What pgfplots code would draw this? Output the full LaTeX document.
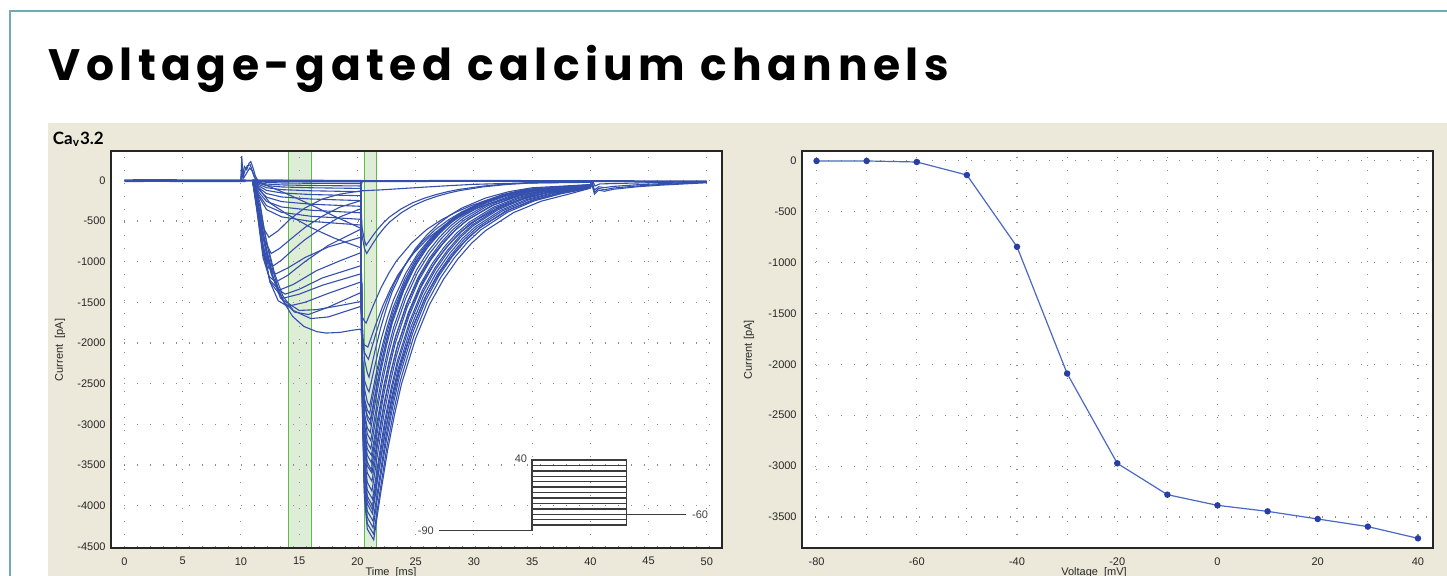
\documentclass[border=0pt]{standalone}
\usepackage{pgfplots}
\pgfplotsset{compat=1.18}
\usepackage{fontspec}
\setmainfont{Liberation Sans}
\newfontfamily\titlefont{Poppins}[LetterSpace=12.5]
\newfontfamily\panelfont{Lato}
\definecolor{tealc}{RGB}{114,170,178}
\definecolor{panel}{RGB}{236,233,218}
\definecolor{trace}{RGB}{52,80,172}
\definecolor{bandfill}{RGB}{222,237,214}
\definecolor{bandline}{RGB}{95,185,75}
\definecolor{ivline}{RGB}{75,105,195}
\definecolor{ivmark}{RGB}{40,62,160}
\definecolor{proto}{RGB}{60,60,60}
\definecolor{gridc}{RGB}{140,140,140}
\pgfplotsset{
  myax/.style={
    anchor=south west, scale only axis, height=198.5pt,
    axis line style={black!85, line width=0.6pt},
    major tick length=0pt, minor tick length=0pt,
    ticklabel style={font=\fontsize{5.5}{6}\selectfont, text=black!85},
    yticklabel style={anchor=east, inner sep=0pt, xshift=-2.5pt},
    xticklabel style={anchor=north, inner sep=0pt, yshift=-4.5pt},
    grid style={gridc, line width=0.55pt, dash pattern=on 0.7pt off 5.8pt},
    minor grid style={gridc, line width=0.55pt, dash pattern=on 0.7pt off 5.8pt},
  },
  tr/.style={trace, line width=0.55pt, mark=none},
}
\begin{document}
\begin{tikzpicture}
\useasboundingbox (0,0) rectangle (723.5pt,287.5pt);
\clip (0,0) rectangle (723.5pt,287.5pt);
\fill[white] (0,0) rectangle (723.5pt,287.5pt);
\draw[tealc, line width=0.9pt] (5pt,-1pt) -- (5pt,282.15pt) -- (724pt,282.15pt);
\fill[panel] (24pt,-1pt) rectangle (724pt,226pt);
\fill[white] (55.5pt,13.5pt) rectangle (361pt,212pt);
\fill[white] (401pt,13.5pt) rectangle (716.5pt,212pt);
\node[anchor=base west, inner sep=0pt] at (24pt,247.5pt) {\titlefont\bfseries\fontsize{22}{24}\selectfont Voltage-gated calcium channels};
\node[anchor=base west, inner sep=0pt] at (26.25pt,215.5pt) {\panelfont\bfseries\fontsize{8.5}{10}\selectfont Ca\textsubscript{v}3.2};

% band layer
\begin{axis}[at={(55.5pt,13.5pt)}, anchor=south west, scale only axis,
  width=305.5pt, height=198.5pt, xmin=-1.15, xmax=51.3, ymin=-4520, ymax=360, hide axis]
\fill[bandfill] (axis cs:14.1,-4520) rectangle (axis cs:16.1,360);
\fill[bandfill] (axis cs:20.6,-4520) rectangle (axis cs:21.6,360);
\draw[bandline, line width=0.5pt] (axis cs:14.1,-4520) -- (axis cs:14.1,360);
\draw[bandline, line width=0.5pt] (axis cs:16.1,-4520) -- (axis cs:16.1,360);
\draw[bandline, line width=0.5pt] (axis cs:20.6,-4520) -- (axis cs:20.6,360);
\draw[bandline, line width=0.5pt] (axis cs:21.6,-4520) -- (axis cs:21.6,360);
\end{axis}

% left plot
\begin{axis}[myax, at={(55.5pt,13.5pt)}, width=305.5pt,
  xmin=-1.15, xmax=51.3, ymin=-4520, ymax=360,
  xtick={0,5,...,50}, xticklabels={0,5,10,15,20,25,30,35,40,45,50},
  ytick={-4500,-4000,...,0},
  yticklabels={-4500,-4000,-3500,-3000,-2500,-2000,-1500,-1000,-500,0},
  grid=major, unbounded coords=jump]
% protocol inset
\addplot[proto, line width=0.7pt] coordinates {(27,-4305)(35,-4305)(35,-3440)(43.08,-3440)(43.08,-4238)(35,-4238)(35,nan)
(35,-4171.5)(43.08,-4171.5)(43.08,nan)(35,-4105)(43.08,-4105)(48.2,-4105)(48.2,nan)
(35,-4038.5)(43.08,-4038.5)(43.08,nan)(35,-3972)(43.08,-3972)(43.08,nan)
(35,-3905.5)(43.08,-3905.5)(43.08,nan)(35,-3839)(43.08,-3839)(43.08,nan)
(35,-3772.5)(43.08,-3772.5)(43.08,nan)(35,-3706)(43.08,-3706)(43.08,nan)
(35,-3639.5)(43.08,-3639.5)(43.08,nan)(35,-3573)(43.08,-3573)(43.08,nan)
(35,-3506.5)(43.08,-3506.5)(43.08,nan)};
\node[anchor=east, inner sep=0pt, text=black!75, font=\fontsize{5.5}{6}\selectfont] at (axis cs:34.6,-3420) {40};
\node[anchor=east, inner sep=0pt, text=black!75, font=\fontsize{5.5}{6}\selectfont] at (axis cs:26.6,-4305) {-90};
\node[anchor=west, inner sep=0pt, text=black!75, font=\fontsize{5.5}{6}\selectfont] at (axis cs:48.7,-4105) {-60};
% baseline and artifact
\addplot[tr, line width=1.4pt] coordinates {(0,-5)(3,-3)(6,-6)(10,-5)(10.4,-5)};
\addplot[tr, line width=1.0pt] coordinates {(10,-5)(11.4,-5)(20.3,-8)(20.32,-40)(20.4,-10)(30,-8)(40,-10)(50,-15)};
\addplot[tr] coordinates {(10.0,0)(10.08,300)(10.15,60)(10.3,170)(10.5,130)(10.7,210)(10.85,230)(11.05,150)(11.25,50)(11.45,0)};
\addplot[tr] coordinates {(10.0,0)(10.1,220)(10.2,40)(10.35,120)(10.55,180)(10.8,190)(11.0,110)(11.2,30)(11.4,-10)};
\addplot[tr] coordinates {(10,0)(10.12,150)(10.25,30)(10.5,90)(10.75,150)(10.95,120)(11.15,40)(11.35,0)};
% traces
\addplot[tr] coordinates {(11,0)(20.3,-5)(20.4,-2652)(20.6,-3890)(20.85,-4287)(21.4,-4420)(22.0,-3845)(22.6,-3315)(23.2,-2873)(23.8,-2497)(25.0,-1945)(26.2,-1525)(27.4,-1216)(28.6,-972)(29.8,-774)(31.0,-619)(33.4,-398)(35.8,-256)(38.2,-168)(40,-97)};
\addplot[tr] coordinates {(11,0)(20.3,-5)(20.4,-2610)(20.6,-3828)(20.85,-4220)(21.4,-4350)(21.98,-3785)(22.55,-3263)(23.13,-2828)(23.7,-2458)(24.85,-1914)(26.0,-1501)(27.15,-1196)(28.3,-957)(29.45,-761)(30.6,-609)(32.9,-392)(35.2,-252)(37.5,-165)(40,-96)};
\addplot[tr] coordinates {(11,0)(11.5,-7)(12.2,-13)(13.5,-16)(16,-18)(20.3,-20)(20.4,-2570)(20.6,-3760)(20.85,-4143)(21.35,-4270)(21.92,-3715)(22.48,-3203)(23.05,-2776)(23.61,-2413)(24.74,-1879)(25.87,-1473)(27.0,-1174)(28.13,-939)(29.26,-747)(30.39,-598)(32.65,-384)(34.91,-248)(37.17,-162)(40,-94)};
\addplot[tr] coordinates {(11,0)(11.5,-14)(12.2,-26)(13.5,-33)(16,-37)(20.3,-40)(20.4,-2530)(20.6,-3692)(20.85,-4066)(21.35,-4190)(21.91,-3645)(22.46,-3143)(23.02,-2724)(23.57,-2367)(24.68,-1844)(25.79,-1446)(26.9,-1152)(28.01,-922)(29.12,-733)(30.23,-587)(32.45,-377)(34.67,-243)(36.89,-159)(40,-92)};
\addplot[tr] coordinates {(11,0)(20.3,-10)(20.4,-2434)(20.6,-3565)(20.85,-3929)(21.3,-4050)(21.89,-3524)(22.47,-3038)(23.06,-2633)(23.64,-2288)(24.81,-1782)(25.98,-1397)(27.15,-1114)(28.32,-891)(29.49,-709)(30.66,-567)(33.0,-365)(35.34,-235)(37.68,-154)(40,-95)};
\addplot[tr] coordinates {(11,0)(11.5,-25)(12.2,-46)(13.5,-57)(16,-64)(20.3,-70)(20.4,-2488)(20.6,-3616)(20.85,-3979)(21.3,-4100)(21.85,-3567)(22.4,-3075)(22.95,-2665)(23.5,-2317)(24.6,-1804)(25.7,-1415)(26.8,-1128)(27.9,-902)(29.0,-718)(30.1,-574)(32.3,-369)(34.5,-238)(36.7,-156)(40,-90)};
\addplot[tr] coordinates {(11,0)(11.5,-35)(12.2,-65)(13.5,-82)(16,-92)(20.3,-100)(20.4,-2440)(20.6,-3532)(20.85,-3883)(21.3,-4000)(21.84,-3480)(22.38,-3000)(22.92,-2600)(23.46,-2260)(24.54,-1760)(25.62,-1380)(26.7,-1100)(27.78,-880)(28.86,-700)(29.94,-560)(32.1,-360)(34.26,-232)(36.42,-152)(40,-88)};
\addplot[tr] coordinates {(11,0)(11.5,-49)(12.2,-91)(13.5,-115)(16,-129)(20.3,-140)(20.4,-2408)(20.6,-3466)(20.85,-3807)(21.3,-3920)(21.84,-3410)(22.37,-2940)(22.91,-2548)(23.44,-2215)(24.51,-1725)(25.58,-1352)(26.65,-1078)(27.72,-862)(28.79,-686)(29.86,-549)(32.0,-353)(34.14,-227)(36.28,-149)(40,-86)};
\addplot[tr] coordinates {(11,0)(11.5,-67)(12.2,-124)(13.5,-156)(16,-175)(20.3,-190)(20.4,-2368)(20.6,-3384)(20.85,-3711)(21.25,-3820)(21.78,-3323)(22.3,-2865)(22.83,-2483)(23.35,-2158)(24.4,-1681)(25.45,-1318)(26.5,-1051)(27.55,-840)(28.6,-669)(29.65,-535)(31.75,-344)(33.85,-222)(35.95,-145)(40,-84)};
\addplot[tr] coordinates {(11,0)(11.5,-88)(12.2,-163)(13.5,-205)(16,-230)(20.3,-250)(20.4,-2320)(20.6,-3286)(20.85,-3597)(21.25,-3700)(21.77,-3219)(22.29,-2775)(22.81,-2405)(23.33,-2091)(24.37,-1628)(25.41,-1277)(26.45,-1018)(27.49,-814)(28.53,-648)(29.57,-518)(31.65,-333)(33.73,-215)(35.81,-141)(40,-81)};
\addplot[tr] coordinates {(11,0)(11.5,-190)(12.2,-360)(13.5,-450)(16,-505)(20.3,-550)(20.4,-2380)(20.6,-3234)(20.85,-3509)(21.25,-3600)(21.8,-3132)(22.35,-2700)(22.9,-2340)(23.45,-2034)(24.55,-1584)(25.65,-1242)(26.75,-990)(27.85,-792)(28.95,-630)(30.05,-504)(32.25,-324)(34.45,-209)(36.65,-137)(40,-79)};
\addplot[tr] coordinates {(11,0)(11.5,-112)(12.2,-208)(13.5,-262)(16,-294)(20.3,-320)(20.4,-2264)(20.6,-3171)(20.85,-3463)(21.2,-3560)(21.71,-3097)(22.22,-2670)(22.73,-2314)(23.24,-2011)(24.26,-1566)(25.28,-1228)(26.3,-979)(27.32,-783)(28.34,-623)(29.36,-498)(31.4,-320)(33.44,-206)(35.48,-135)(40,-78)};
\addplot[tr] coordinates {(11,0)(11.5,-140)(12.2,-260)(13.5,-328)(16,-368)(20.3,-400)(20.4,-2242)(20.6,-3102)(20.85,-3378)(21.2,-3470)(21.7,-3019)(22.2,-2603)(22.7,-2256)(23.2,-1961)(24.2,-1527)(25.2,-1197)(26.2,-954)(27.2,-763)(28.2,-607)(29.2,-486)(31.2,-312)(33.2,-201)(35.2,-132)(40,-76)};
\addplot[tr] coordinates {(11,0)(11.4,-330)(11.9,-820)(12.4,-1080)(13.0,-1150)(14,-1080)(15.5,-950)(17.5,-820)(20.3,-700)(20.4,-2308)(20.6,-3058)(20.85,-3300)(21.2,-3380)(21.73,-2941)(22.25,-2535)(22.78,-2197)(23.3,-1910)(24.35,-1487)(25.4,-1166)(26.45,-930)(27.5,-744)(28.55,-592)(29.6,-473)(31.7,-304)(33.8,-196)(35.9,-128)(40,-74)};
\addplot[tr] coordinates {(11,0)(11.4,-10)(12,-50)(14,-170)(16,-300)(18,-440)(20.3,-590)(20.4,-2216)(20.6,-2975)(20.85,-3219)(21.15,-3300)(21.65,-2871)(22.15,-2475)(22.65,-2145)(23.15,-1865)(24.15,-1452)(25.15,-1139)(26.15,-908)(27.15,-726)(28.15,-578)(29.15,-462)(31.15,-297)(33.15,-191)(35.15,-125)(40,-73)};
\addplot[tr] coordinates {(11,0)(11.5,-168)(12.2,-312)(13.5,-394)(16,-442)(20.3,-480)(20.4,-2112)(20.6,-2874)(20.85,-3118)(21.15,-3200)(21.64,-2784)(22.13,-2400)(22.62,-2080)(23.11,-1808)(24.09,-1408)(25.07,-1104)(26.05,-880)(27.03,-704)(28.01,-560)(28.99,-448)(30.95,-288)(32.91,-186)(34.87,-122)(40,-70)};
\addplot[tr] coordinates {(11,0)(11.2,-20)(11.8,-150)(12.5,-280)(14,-420)(16,-580)(18,-710)(20.3,-830)(20.4,-2132)(20.6,-2740)(20.85,-2935)(21.1,-3000)(21.58,-2610)(22.05,-2250)(22.53,-1950)(23.0,-1695)(23.95,-1320)(24.9,-1035)(25.85,-825)(26.8,-660)(27.75,-525)(28.7,-420)(30.6,-270)(32.5,-174)(34.4,-114)(40,-66)};
\addplot[tr] coordinates {(11,0)(11.4,-350)(11.9,-850)(12.5,-1250)(13.6,-1450)(15,-1400)(17,-1290)(20.3,-1150)(20.4,-2320)(20.6,-2866)(20.85,-3042)(21.1,-3100)(21.58,-2697)(22.05,-2325)(22.53,-2015)(23.0,-1752)(23.95,-1364)(24.9,-1070)(25.85,-853)(26.8,-682)(27.75,-543)(28.7,-434)(30.6,-279)(32.5,-180)(34.4,-118)(40,-68)};
\addplot[tr] coordinates {(11,0)(11.5,-320)(12.0,-780)(12.6,-1150)(13.2,-1340)(13.8,-1400)(15,-1340)(17,-1200)(20.3,-1050)(20.4,-2190)(20.6,-2722)(20.85,-2893)(21.1,-2950)(21.6,-2567)(22.1,-2213)(22.6,-1918)(23.1,-1667)(24.1,-1298)(25.1,-1018)(26.1,-811)(27.1,-649)(28.1,-516)(29.1,-413)(31.1,-266)(33.1,-171)(35.1,-112)(40,-65)};
\addplot[tr] coordinates {(11,0)(11.4,-300)(11.9,-800)(12.5,-1250)(13.2,-1480)(14,-1550)(15.5,-1500)(17.5,-1390)(20.3,-1250)(20.4,-2222)(20.6,-2676)(20.85,-2821)(21.05,-2870)(21.55,-2497)(22.05,-2153)(22.55,-1866)(23.05,-1622)(24.05,-1263)(25.05,-990)(26.05,-789)(27.05,-631)(28.05,-502)(29.05,-402)(31.05,-258)(33.05,-166)(35.05,-109)(40,-63)};
\addplot[tr] coordinates {(11,0)(11.4,-380)(11.9,-900)(12.5,-1230)(13.3,-1350)(14.5,-1280)(16.5,-1110)(18.5,-990)(20.3,-890)(20.4,-2024)(20.6,-2553)(20.85,-2723)(21.05,-2780)(21.55,-2419)(22.05,-2085)(22.55,-1807)(23.05,-1571)(24.05,-1223)(25.05,-959)(26.05,-765)(27.05,-612)(28.05,-487)(29.05,-389)(31.05,-250)(33.05,-161)(35.05,-106)(40,-61)};
\addplot[tr] coordinates {(11,0)(11.5,-300)(12.1,-780)(12.8,-1200)(13.6,-1480)(14.6,-1620)(15.8,-1650)(17.5,-1560)(20.3,-1380)(20.4,-2112)(20.6,-2454)(20.85,-2563)(21.0,-2600)(21.53,-2262)(22.05,-1950)(22.58,-1690)(23.1,-1469)(24.15,-1144)(25.2,-897)(26.25,-715)(27.3,-572)(28.35,-455)(29.4,-364)(31.5,-234)(33.6,-151)(35.7,-99)(40,-57)};
\addplot[tr] coordinates {(11,0)(11.4,-400)(11.9,-950)(12.4,-1180)(13.0,-1250)(14,-1170)(15.5,-1000)(17.5,-800)(20.3,-600)(20.4,-1692)(20.6,-2202)(20.85,-2365)(21.0,-2420)(21.5,-2105)(22.0,-1815)(22.5,-1573)(23.0,-1367)(24.0,-1065)(25.0,-835)(26.0,-666)(27.0,-532)(28.0,-424)(29.0,-339)(31.0,-218)(33.0,-140)(35.0,-92)(40,-53)};
\addplot[tr] coordinates {(11,0)(11.64,-275)(12.09,-686)(12.72,-1097)(13.15,-1303)(13.72,-1508)(14.44,-1673)(15.4,-1796)(16.5,-1860)(17.3,-1878)(18.5,-1870)(19.5,-1845)(20.3,-1829)(20.4,-1962)(20.6,-2023)(20.9,-2050)(21.55,-1784)(22.2,-1538)(22.85,-1333)(23.5,-1158)(24.8,-902)(26.1,-707)(27.4,-564)(28.7,-451)(30.0,-359)(31.3,-287)(33.9,-185)(36.5,-119)(40,-70)};
\addplot[tr] coordinates {(11,0)(11.6,-300)(12.2,-750)(12.9,-1150)(13.6,-1420)(14.5,-1600)(16,-1700)(17.5,-1680)(19,-1610)(20.3,-1550)(20.4,-1673)(20.6,-1730)(20.75,-1755)(21.4,-1527)(22.05,-1316)(22.7,-1141)(23.35,-992)(24.65,-772)(25.95,-605)(27.25,-483)(28.55,-386)(29.85,-307)(31.15,-246)(33.75,-158)(36.35,-102)(40,-62)};
\addplot[tr] coordinates {(11,0)(11.5,-300)(12.1,-800)(12.7,-1180)(13.4,-1450)(15,-1600)(16.5,-1590)(18.5,-1540)(20.3,-1490)(20.4,-1916)(20.6,-2115)(20.85,-2179)(20.95,-2200)(21.53,-1914)(22.1,-1650)(22.68,-1430)(23.25,-1243)(24.4,-968)(25.55,-759)(26.7,-605)(27.85,-484)(29.0,-385)(30.15,-308)(32.45,-198)(34.75,-128)(37.05,-84)(40,-55)};
\addplot[tr] coordinates {(11,0)(11.4,-350)(11.9,-800)(12.3,-1000)(12.8,-1050)(13.5,-980)(14.5,-850)(15.5,-730)(17,-580)(18.5,-450)(20.3,-350)(20.4,-680)(20.6,-834)(20.8,-900)(21.3,-783)(21.8,-675)(22.3,-585)(22.8,-509)(23.8,-396)(24.8,-311)(25.8,-248)(26.8,-198)(27.8,-158)(28.8,-126)(30.8,-81)(32.8,-52)(34.8,-34)(40,-25)};
\addplot[tr] coordinates {(11,0)(11.4,-300)(11.9,-700)(12.6,-900)(13.3,-840)(14.3,-720)(15.5,-580)(17,-440)(18.5,-330)(20.3,-250)(20.4,-580)(20.6,-734)(20.75,-800)(21.25,-696)(21.75,-600)(22.25,-520)(22.75,-452)(23.75,-352)(24.75,-276)(25.75,-220)(26.75,-176)(27.75,-140)(28.75,-112)(30.75,-72)(32.75,-46)(34.75,-30)(40,-22)};
\addplot[tr] coordinates {(11,0)(11.4,-250)(11.9,-580)(12.4,-700)(13.2,-620)(14.2,-480)(15.5,-340)(17,-230)(18.5,-170)(20.3,-130)(21,-125)(22,-118)(24,-100)(26,-82)(28,-65)(30,-50)(33,-38)(36,-28)(40,-20)};
% tails
\addplot[tr] coordinates {(40,-95)(40.15,-60)(40.35,-170)(40.7,-120)(41.2,-135)(42,-110)(44,-80)(46,-60)(48,-45)(50,-30)};
\addplot[tr] coordinates {(40,-75)(40.15,-40)(40.35,-150)(40.7,-100)(41.2,-115)(42,-95)(44,-70)(46,-52)(48,-38)(50,-25)};
\addplot[tr] coordinates {(40,-55)(40.15,-20)(40.35,-120)(40.7,-80)(41.2,-90)(42,-75)(44,-55)(46,-42)(48,-30)(50,-20)};
\addplot[tr] coordinates {(40,-30)(40.2,-10)(40.4,-70)(40.8,-45)(42,-40)(45,-30)(50,-15)};
\end{axis}

% right plot
\begin{axis}[myax, at={(401pt,13.5pt)}, width=315.5pt,
  xmin=-82.9, xmax=43.0, ymin=-3805, ymax=95,
  xtick={-80,-60,...,40}, xticklabels={-80,-60,-40,-20,0,20,40},
  minor xtick={-70,-50,...,30},
  ytick={-3500,-3000,...,0},
  yticklabels={-3500,-3000,-2500,-2000,-1500,-1000,-500,0},
  grid=both]
\addplot[ivline, line width=0.6pt, mark=*, mark size=1.3pt, mark options={fill=ivmark, draw=ivmark}]
coordinates {(-80,-3)(-70,-3)(-60,-13)(-50,-141)(-40,-846)(-30,-2091)(-20,-2973)(-10,-3281)(0,-3386)(10,-3445)(20,-3520)(30,-3595)(40,-3710)};
\end{axis}

\node[rotate=90, inner sep=0pt, text=black!85, font=\fontsize{5.5}{6}\selectfont] at (30pt,112.5pt) {Current\ \ [pA]};
\node[rotate=90, inner sep=0pt, text=black!85, font=\fontsize{5.5}{6}\selectfont] at (374.5pt,112.5pt) {Current [pA]};
\node[anchor=north, inner sep=0pt, text=black!85, font=\fontsize{5.5}{6}\selectfont] at (195.5pt,4pt) {Time\ \ [ms]};
\node[anchor=north, inner sep=0pt, text=black!85, font=\fontsize{5.5}{6}\selectfont] at (547pt,4pt) {Voltage\ \ [mV]};
\end{tikzpicture}
\end{document}
